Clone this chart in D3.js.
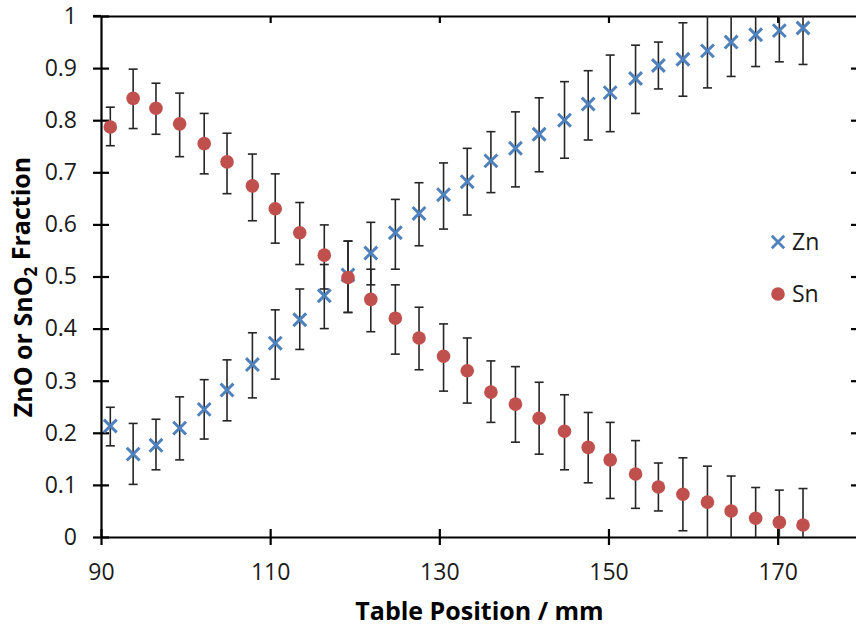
<!DOCTYPE html>
<html>
<head>
<meta charset="utf-8">
<script src="https://cdn.jsdelivr.net/npm/d3@7/dist/d3.min.js"></script>
<style>
  body { margin: 0; background: #fff; }
  svg { display: block; }
</style>
</head>
<body>
<div id="chart"></div>
<script>
// posisi meja (mm) untuk tiap titik ukur
const tablePos = [91.1, 93.8, 96.5, 99.3, 102.2, 104.9, 107.9, 110.6, 113.5, 116.4,
  119.2, 121.9, 124.8, 127.6, 130.5, 133.3, 136.1, 139.0, 141.8, 144.8,
  147.6, 150.2, 153.2, 155.9, 158.8, 161.7, 164.5, 167.4, 170.2, 173.0];

// fraksi ZnO + ujung atas / bawah error bar
const znFrac = [0.213, 0.159, 0.176, 0.209, 0.245, 0.282, 0.331, 0.372, 0.417, 0.463,
  0.503, 0.545, 0.584, 0.621, 0.657, 0.682, 0.722, 0.746, 0.773, 0.800,
  0.831, 0.853, 0.880, 0.905, 0.917, 0.933, 0.950, 0.964, 0.972, 0.977];
const znHigh = [0.249, 0.218, 0.226, 0.269, 0.302, 0.340, 0.392, 0.436, 0.476, 0.523,
  0.568, 0.604, 0.648, 0.680, 0.718, 0.746, 0.778, 0.816, 0.843, 0.874,
  0.895, 0.925, 0.944, 0.950, 0.987, 1.004, 1.016, 1.025, 1.032, 1.047];
const znLow = [0.175, 0.101, 0.129, 0.148, 0.188, 0.223, 0.267, 0.303, 0.360, 0.400,
  0.431, 0.484, 0.514, 0.559, 0.591, 0.618, 0.661, 0.672, 0.701, 0.727,
  0.762, 0.778, 0.813, 0.860, 0.846, 0.862, 0.884, 0.903, 0.912, 0.907];

// fraksi SnO2 + error bar
const snFrac = [0.787, 0.842, 0.823, 0.793, 0.755, 0.720, 0.674, 0.630, 0.584, 0.541,
  0.498, 0.456, 0.420, 0.382, 0.347, 0.319, 0.278, 0.255, 0.228, 0.203,
  0.172, 0.148, 0.121, 0.096, 0.082, 0.067, 0.050, 0.036, 0.028, 0.023];
const snHigh = [0.825, 0.898, 0.871, 0.852, 0.813, 0.775, 0.735, 0.697, 0.642, 0.599,
  0.568, 0.514, 0.484, 0.441, 0.409, 0.382, 0.338, 0.327, 0.297, 0.273,
  0.239, 0.220, 0.185, 0.142, 0.152, 0.136, 0.117, 0.095, 0.090, 0.093];
const snLow = [0.751, 0.784, 0.773, 0.730, 0.697, 0.659, 0.607, 0.564, 0.523, 0.476,
  0.431, 0.394, 0.351, 0.321, 0.280, 0.257, 0.220, 0.182, 0.159, 0.129,
  0.104, 0.074, 0.055, 0.050, 0.012, -0.002, -0.017, -0.023, -0.034, -0.047];

const xTicks = [90, 110, 130, 150, 170];
const yTicks = [0, 0.1, 0.2, 0.3, 0.4, 0.5, 0.6, 0.7, 0.8, 0.9, 1];
const seriesNames = ["Zn", "Sn"];

const W = 856, H = 628;
const pLeft = 101, pTop = 16, pRight = 858, pBottom = 537;
const FONT = "'Open Sans', Lato, sans-serif";
const BLUE = "#4F81BD", RED = "#C0504D";

const x = d3.scaleLinear().domain([90, 179.5]).range([pLeft, pRight]);
const y = d3.scaleLinear().domain([0, 1]).range([pBottom, pTop]);

const svg = d3.select("#chart").append("svg")
  .attr("width", W).attr("height", H)
  .style("font-family", FONT);

svg.append("defs").append("clipPath").attr("id", "plotclip")
  .append("rect").attr("x", pLeft).attr("y", pTop)
  .attr("width", pRight - pLeft).attr("height", pBottom - pTop);

// sumbu kiri (tick menyilang)
const yAxis = svg.append("g")
  .attr("transform", "translate(" + pLeft + ",0)")
  .call(d3.axisLeft(y).tickValues(yTicks).tickSize(8).tickSizeOuter(0).tickPadding(16)
    .tickFormat(d3.format("~g")));
yAxis.select(".domain").attr("stroke", "#000").attr("stroke-width", 2.2);
yAxis.selectAll(".tick line").attr("x1", 8).attr("stroke", "#000").attr("stroke-width", 2.2);
yAxis.selectAll(".tick text").attr("fill", "#1a1a1a").style("font-size", "23px").style("font-family", FONT);

// sumbu bawah
const xAxis = svg.append("g")
  .attr("transform", "translate(0," + pBottom + ")")
  .call(d3.axisBottom(x).tickValues(xTicks).tickSize(8).tickSizeOuter(0).tickPadding(19));
xAxis.select(".domain").attr("stroke", "#000").attr("stroke-width", 2.2);
xAxis.selectAll(".tick line").attr("y1", -8).attr("stroke", "#000").attr("stroke-width", 2.2);
xAxis.selectAll(".tick text").attr("fill", "#1a1a1a").style("font-size", "23px").style("font-family", FONT);

// sumbu atas & kanan (tanpa label, tick ke dalam)
const topAxis = svg.append("g")
  .attr("transform", "translate(0," + pTop + ")")
  .call(d3.axisTop(x).tickValues(xTicks.slice(1)).tickSize(-7).tickSizeOuter(0).tickFormat(""));
topAxis.select(".domain").attr("stroke", "#000").attr("stroke-width", 2.2);
topAxis.selectAll(".tick line").attr("stroke", "#000").attr("stroke-width", 2.2);
svg.append("line").attr("x1", pLeft - 8).attr("x2", pLeft).attr("y1", pTop).attr("y2", pTop)
  .attr("stroke", "#000").attr("stroke-width", 2.2);

const rightAxis = svg.append("g")
  .attr("transform", "translate(" + pRight + ",0)")
  .call(d3.axisRight(y).tickValues(yTicks.slice(1, -1)).tickSize(-7).tickSizeOuter(0).tickFormat(""));
rightAxis.select(".domain").attr("stroke", "#000").attr("stroke-width", 2.2);
rightAxis.selectAll(".tick line").attr("stroke", "#000").attr("stroke-width", 2.2);

// siapkan data per titik
const zn = tablePos.map((p, i) => ({ p: p, v: znFrac[i], hi: znHigh[i], lo: znLow[i] }));
const sn = tablePos.map((p, i) => ({ p: p, v: snFrac[i], hi: snHigh[i], lo: snLow[i] }));

const plot = svg.append("g").attr("clip-path", "url(#plotclip)");

function errorBars(data) {
  const g = plot.append("g").attr("stroke", "#262626").attr("stroke-width", 1.6);
  data.forEach(d => {
    const cx = x(d.p);
    g.append("line").attr("x1", cx).attr("x2", cx).attr("y1", y(d.hi)).attr("y2", y(d.lo));
    g.append("line").attr("x1", cx - 4.5).attr("x2", cx + 4.5).attr("y1", y(d.hi)).attr("y2", y(d.hi));
    g.append("line").attr("x1", cx - 4.5).attr("x2", cx + 4.5).attr("y1", y(d.lo)).attr("y2", y(d.lo));
  });
}
errorBars(zn);
errorBars(sn);

function cross(s) {
  return "M" + (-s) + "," + (-s) + "L" + s + "," + s + "M" + (-s) + "," + s + "L" + s + "," + (-s);
}

svg.append("g").selectAll("path").data(zn).enter().append("path")
  .attr("transform", d => "translate(" + x(d.p) + "," + y(d.v) + ")")
  .attr("d", cross(6.4))
  .attr("stroke", BLUE).attr("stroke-width", 3).attr("fill", "none");

svg.append("g").selectAll("circle").data(sn).enter().append("circle")
  .attr("cx", d => x(d.p)).attr("cy", d => y(d.v)).attr("r", 6.8)
  .attr("fill", RED);

// legenda
const legend = svg.append("g");
seriesNames.forEach((name, i) => {
  const ly = 242 + i * 52;
  if (name === "Zn") {
    legend.append("path").attr("transform", "translate(778," + ly + ")")
      .attr("d", cross(6.2)).attr("stroke", BLUE).attr("stroke-width", 2.8).attr("fill", "none");
  } else {
    legend.append("circle").attr("cx", 778).attr("cy", ly).attr("r", 6.8).attr("fill", RED);
  }
  legend.append("text").attr("x", 792).attr("y", ly).attr("dy", "0.36em")
    .style("font-size", "23px").attr("fill", "#1a1a1a").text(name);
});

// judul sumbu
svg.append("text")
  .attr("x", (pLeft + pRight) / 2).attr("y", 620)
  .attr("text-anchor", "middle")
  .style("font-size", "25px").style("font-weight", "bold")
  .text("Table Position / mm");

const yt = svg.append("text")
  .attr("transform", "translate(32," + 287 + ") rotate(-90)")
  .attr("text-anchor", "middle")
  .style("font-size", "25px").style("font-weight", "bold");
yt.append("tspan").text("ZnO or SnO");
yt.append("tspan").attr("dy", "0.3em").style("font-size", "17px").text("2");
yt.append("tspan").attr("dy", "-0.3em").text(" Fraction");
</script>
</body>
</html>
